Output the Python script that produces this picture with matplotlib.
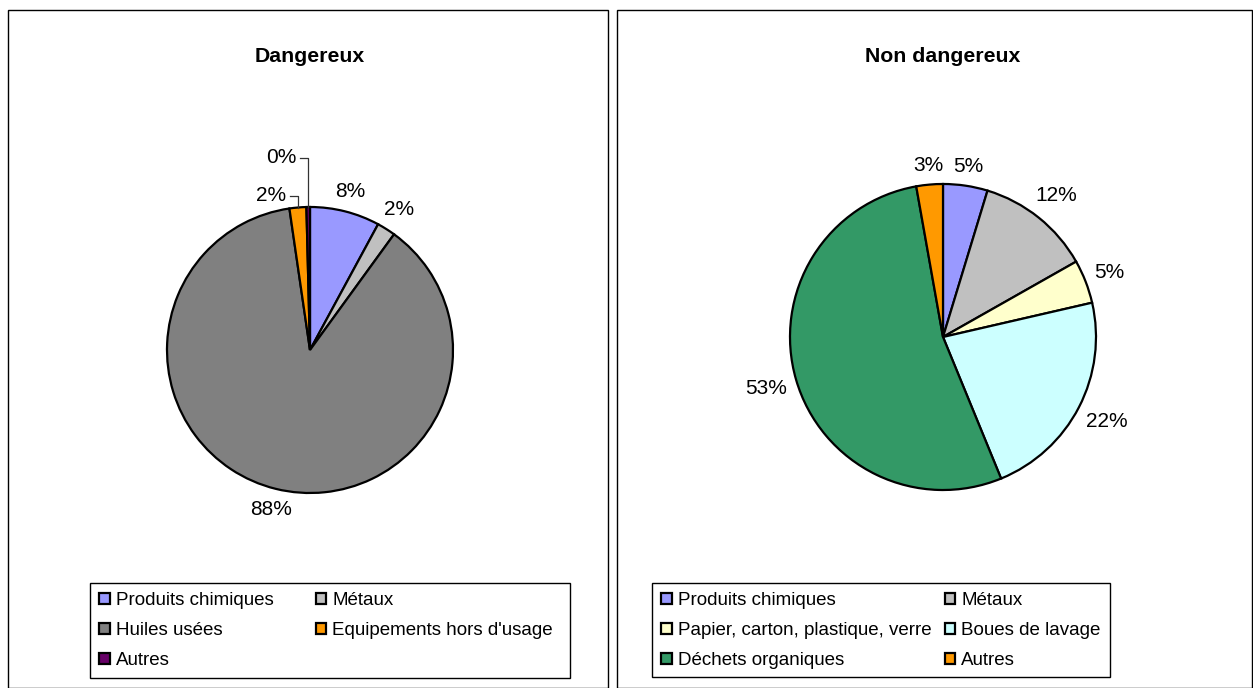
import matplotlib
matplotlib.use("Agg")
import matplotlib.pyplot as plt
import numpy as np
from matplotlib.patches import Rectangle

plt.rcParams["font.family"] = ["Liberation Sans", "DejaVu Sans"]

# Dangereux
dang_labels = ["Produits chimiques", "Métaux", "Huiles usées",
               "Equipements hors d'usage", "Autres"]
dang_values = [7.9, 2.1, 87.7, 1.9, 0.4]
dang_colors = ["#9999FF", "#C0C0C0", "#808080", "#FF9900", "#660066"]

# Non dangereux
nd_labels = ["Produits chimiques", "Métaux", "Papier, carton, plastique, verre",
             "Boues de lavage", "Déchets organiques", "Autres"]
nd_values = [4.7, 12.1, 4.6, 22.4, 53.4, 2.8]
nd_colors = ["#9999FF", "#C0C0C0", "#FFFFCC", "#CCFFFF", "#339966", "#FF9900"]

W, H = 1253, 688
fig = plt.figure(figsize=(W / 100, H / 100), dpi=100)
renderer = fig.canvas.get_renderer()


def px_axes(cx, cy, r):
    return fig.add_axes([(cx - r) / W, (H - cy - r) / H, 2 * r / W, 2 * r / H])


def draw_pie(ax, values, colors, r_px, leader=()):
    wedges, _ = ax.pie(values, colors=colors, startangle=90, counterclock=False,
                       wedgeprops=dict(edgecolor="black", linewidth=1.6),
                       radius=1.0)
    ax.set_xlim(-1, 1)
    ax.set_ylim(-1, 1)
    ax.set_aspect("equal")
    ax.axis("off")
    total = sum(values)
    cum = 0
    for i, v in enumerate(values):
        mid = np.radians(90 - (cum + v / 2) / total * 360)
        cum += v
        txt = "%d%%" % round(v / total * 100)
        ux, uy = np.cos(mid), np.sin(mid)
        if i in leader:
            ly = leader[i]
            ax.plot([ux, ux, ux - 0.055], [uy, ly, ly], color="#333333", lw=0.9,
                    clip_on=False)
            ax.text(ux - 0.08, ly, txt, ha="right", va="center", fontsize=15)
        else:
            t = ax.text(0, 0, txt, ha="center", va="center", fontsize=15)
            bb = t.get_window_extent(renderer)
            hw = bb.width / 2 / r_px
            hh = 9 / r_px
            d = 1.055 + hw * abs(ux) + hh * abs(uy)
            t.set_position((d * ux, d * uy))
    return wedges


# frames
fig.patches.append(Rectangle((8 / W, 0), 600 / W, (H - 10) / H, transform=fig.transFigure,
                             fill=False, edgecolor="black", lw=1))
fig.patches.append(Rectangle((617 / W, 0), 635 / W, (H - 10) / H, transform=fig.transFigure,
                             fill=False, edgecolor="black", lw=1))

ax1 = px_axes(310, 350, 143)
w1 = draw_pie(ax1, dang_values, dang_colors, 143, leader={3: 1.077, 4: 1.343})
ax2 = px_axes(943, 337, 153)
w2 = draw_pie(ax2, nd_values, nd_colors, 153)

fig.text(310 / W, 1 - 57 / H, "Dangereux", ha="center", va="center",
         fontsize=15.3, fontweight="bold")
fig.text(943 / W, 1 - 57 / H, "Non dangereux", ha="center", va="center",
         fontsize=15.3, fontweight="bold")


def legend(wedges, labels, order, box, colsp):
    x0, y0, x1, y1 = box
    h = [wedges[i] for i in order]
    l = [labels[i] for i in order]
    leg = fig.legend(h, l, ncol=2, loc="upper left",
                     bbox_to_anchor=(x0 / W, 1 - y0 / H), frameon=False,
                     fontsize=13.5, handlelength=0.55, handleheight=0.55,
                     handletextpad=0.33, columnspacing=colsp, labelspacing=0.69,
                     borderpad=0.5, borderaxespad=0)
    for p in leg.legend_handles:
        p.set_linewidth(1.6)
    fig.patches.append(Rectangle((x0 / W, 1 - y1 / H), (x1 - x0) / W, (y1 - y0) / H,
                                 transform=fig.transFigure, fill=False,
                                 edgecolor="black", lw=1))
    return leg


legend(w1, dang_labels, [0, 2, 4, 1, 3], (90, 583, 570, 678), 2.24)
legend(w2, nd_labels, [0, 2, 4, 1, 3, 5], (652, 583, 1110, 677), 0.7)

fig.savefig("out.png", dpi=100)
